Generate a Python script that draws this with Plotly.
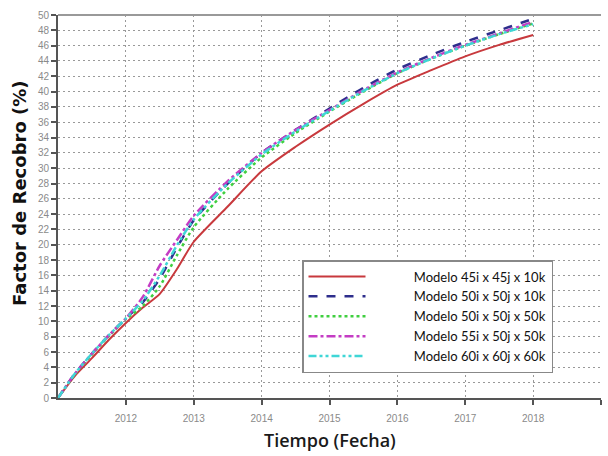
import plotly.graph_objects as go

years = [2011.0, 2011.25, 2011.5, 2011.75, 2012.0, 2012.25, 2012.5, 2012.75, 2013.0,
         2013.5, 2014.0, 2014.5, 2015.0, 2015.5, 2016.0, 2016.5, 2017.0, 2017.5, 2018.0]

m45_45_10 = [0, 2.9, 5.2, 7.6, 9.8, 11.8, 13.6, 16.8, 20.4, 25.0, 29.6, 32.8, 35.7, 38.4, 40.9, 42.8, 44.6, 46.1, 47.4]
m50_50_10 = [0, 3.2, 5.8, 8.2, 10.4, 12.5, 15.6, 19.6, 23.2, 28.0, 32.0, 35.0, 37.8, 40.5, 42.9, 44.8, 46.5, 48.0, 49.5]
m50_50_50 = [0, 3.1, 5.7, 8.1, 10.3, 12.0, 14.6, 18.6, 22.3, 27.3, 31.4, 34.6, 37.4, 40.0, 42.4, 44.3, 46.0, 47.5, 48.9]
m55_50_50 = [0, 3.2, 5.8, 8.2, 10.4, 13.2, 17.3, 20.6, 23.8, 28.3, 32.0, 35.0, 37.6, 40.2, 42.5, 44.4, 46.1, 47.6, 49.1]
m60_60_60 = [0, 3.2, 5.8, 8.2, 10.4, 12.7, 16.0, 19.9, 23.3, 28.0, 31.8, 34.8, 37.5, 40.1, 42.4, 44.3, 46.0, 47.5, 48.8]

names = ["Modelo 45i x 45j x 10k", "Modelo 50i x 50j x 10k", "Modelo 50i x 50j x 50k",
         "Modelo 55i x 50j x 50k", "Modelo 60i x 60j x 60k"]
series = [m45_45_10, m50_50_10, m50_50_50, m55_50_50, m60_60_60]
colors = ["#c8393d", "#2e2e8c", "#3fcf3f", "#c43cc4", "#3fd6d6"]
dashes = ["solid", "dash", "dot", "dashdot", "8px,3px,3px,3px,3px,3px"]
widths = [2, 2.5, 2.5, 2.5, 2.5]

y_ticks = list(range(0, 51, 2))
x_ticks = [2012, 2013, 2014, 2015, 2016, 2017, 2018, 2019]

PAD = "\u00a0" * 13

fig = go.Figure()
for nm, ys, c, d, w in zip(names, series, colors, dashes, widths):
    fig.add_trace(go.Scatter(x=years, y=ys, mode="lines", name=PAD + nm,
                             line=dict(color=c, dash=d, width=w, shape="spline", smoothing=0.6)))

L, R, T, B = 58, 7, 15, 58
W, H = 608, 456
pw = W - L - R
ph = H - T - B

tickfont = dict(family="Liberation Sans Narrow, Liberation Sans", size=10, color="#8a8a8a")

fig.update_layout(
    width=W, height=H,
    margin=dict(l=L, r=R, t=T, b=B),
    paper_bgcolor="white", plot_bgcolor="white",
    showlegend=True,
    legend=dict(x=(302 - L) / pw, y=(398 - 260) / ph, xanchor="left", yanchor="top",
                bgcolor="white", bordercolor="#888888", borderwidth=1.5,
                font=dict(family="Lato, Open Sans", size=13, color="#111111"),
                itemwidth=57, tracegroupgap=0),
    xaxis=dict(range=[2011, 2019], tickvals=x_ticks, ticktext=[str(v) for v in x_ticks],
               showgrid=True, gridcolor="#999999", griddash="2px,3px", gridwidth=1,
               showline=True, linecolor="#555555", linewidth=2,
               ticks="outside", ticklen=5, tickcolor="#555555", tickwidth=1.5,
               ticklabelstandoff=5,
               tickfont=tickfont, zeroline=False),
    yaxis=dict(range=[0, 50], tickvals=y_ticks,
               showgrid=True, gridcolor="#999999", griddash="2px,3px", gridwidth=1,
               showline=True, linecolor="#555555", linewidth=2,
               ticks="outside", ticklen=5, tickcolor="#555555", tickwidth=1.5,
               tickfont=tickfont, zeroline=False),
)

fig.add_shape(type="line", xref="paper", yref="paper", x0=0, x1=1, y0=1, y1=1,
              line=dict(color="#999999", width=2))

fig.add_annotation(text="Factor de Recobro (%)", xref="paper", yref="paper",
                   x=(19 - L) / pw, y=(398 - 193) / ph, textangle=-90, showarrow=False,
                   xanchor="center", yanchor="middle",
                   font=dict(family="DejaVu Sans", size=18, color="#111111", weight="bold"))
fig.add_annotation(text="Tiempo (Fecha)", xref="paper", yref="paper",
                   x=(330 - L) / pw, y=-(440 - 398) / ph, showarrow=False,
                   xanchor="center", yanchor="middle",
                   font=dict(family="Open Sans, Liberation Sans", size=18, color="#1a1a1a", weight=600))

fig.write_html("out.html")
